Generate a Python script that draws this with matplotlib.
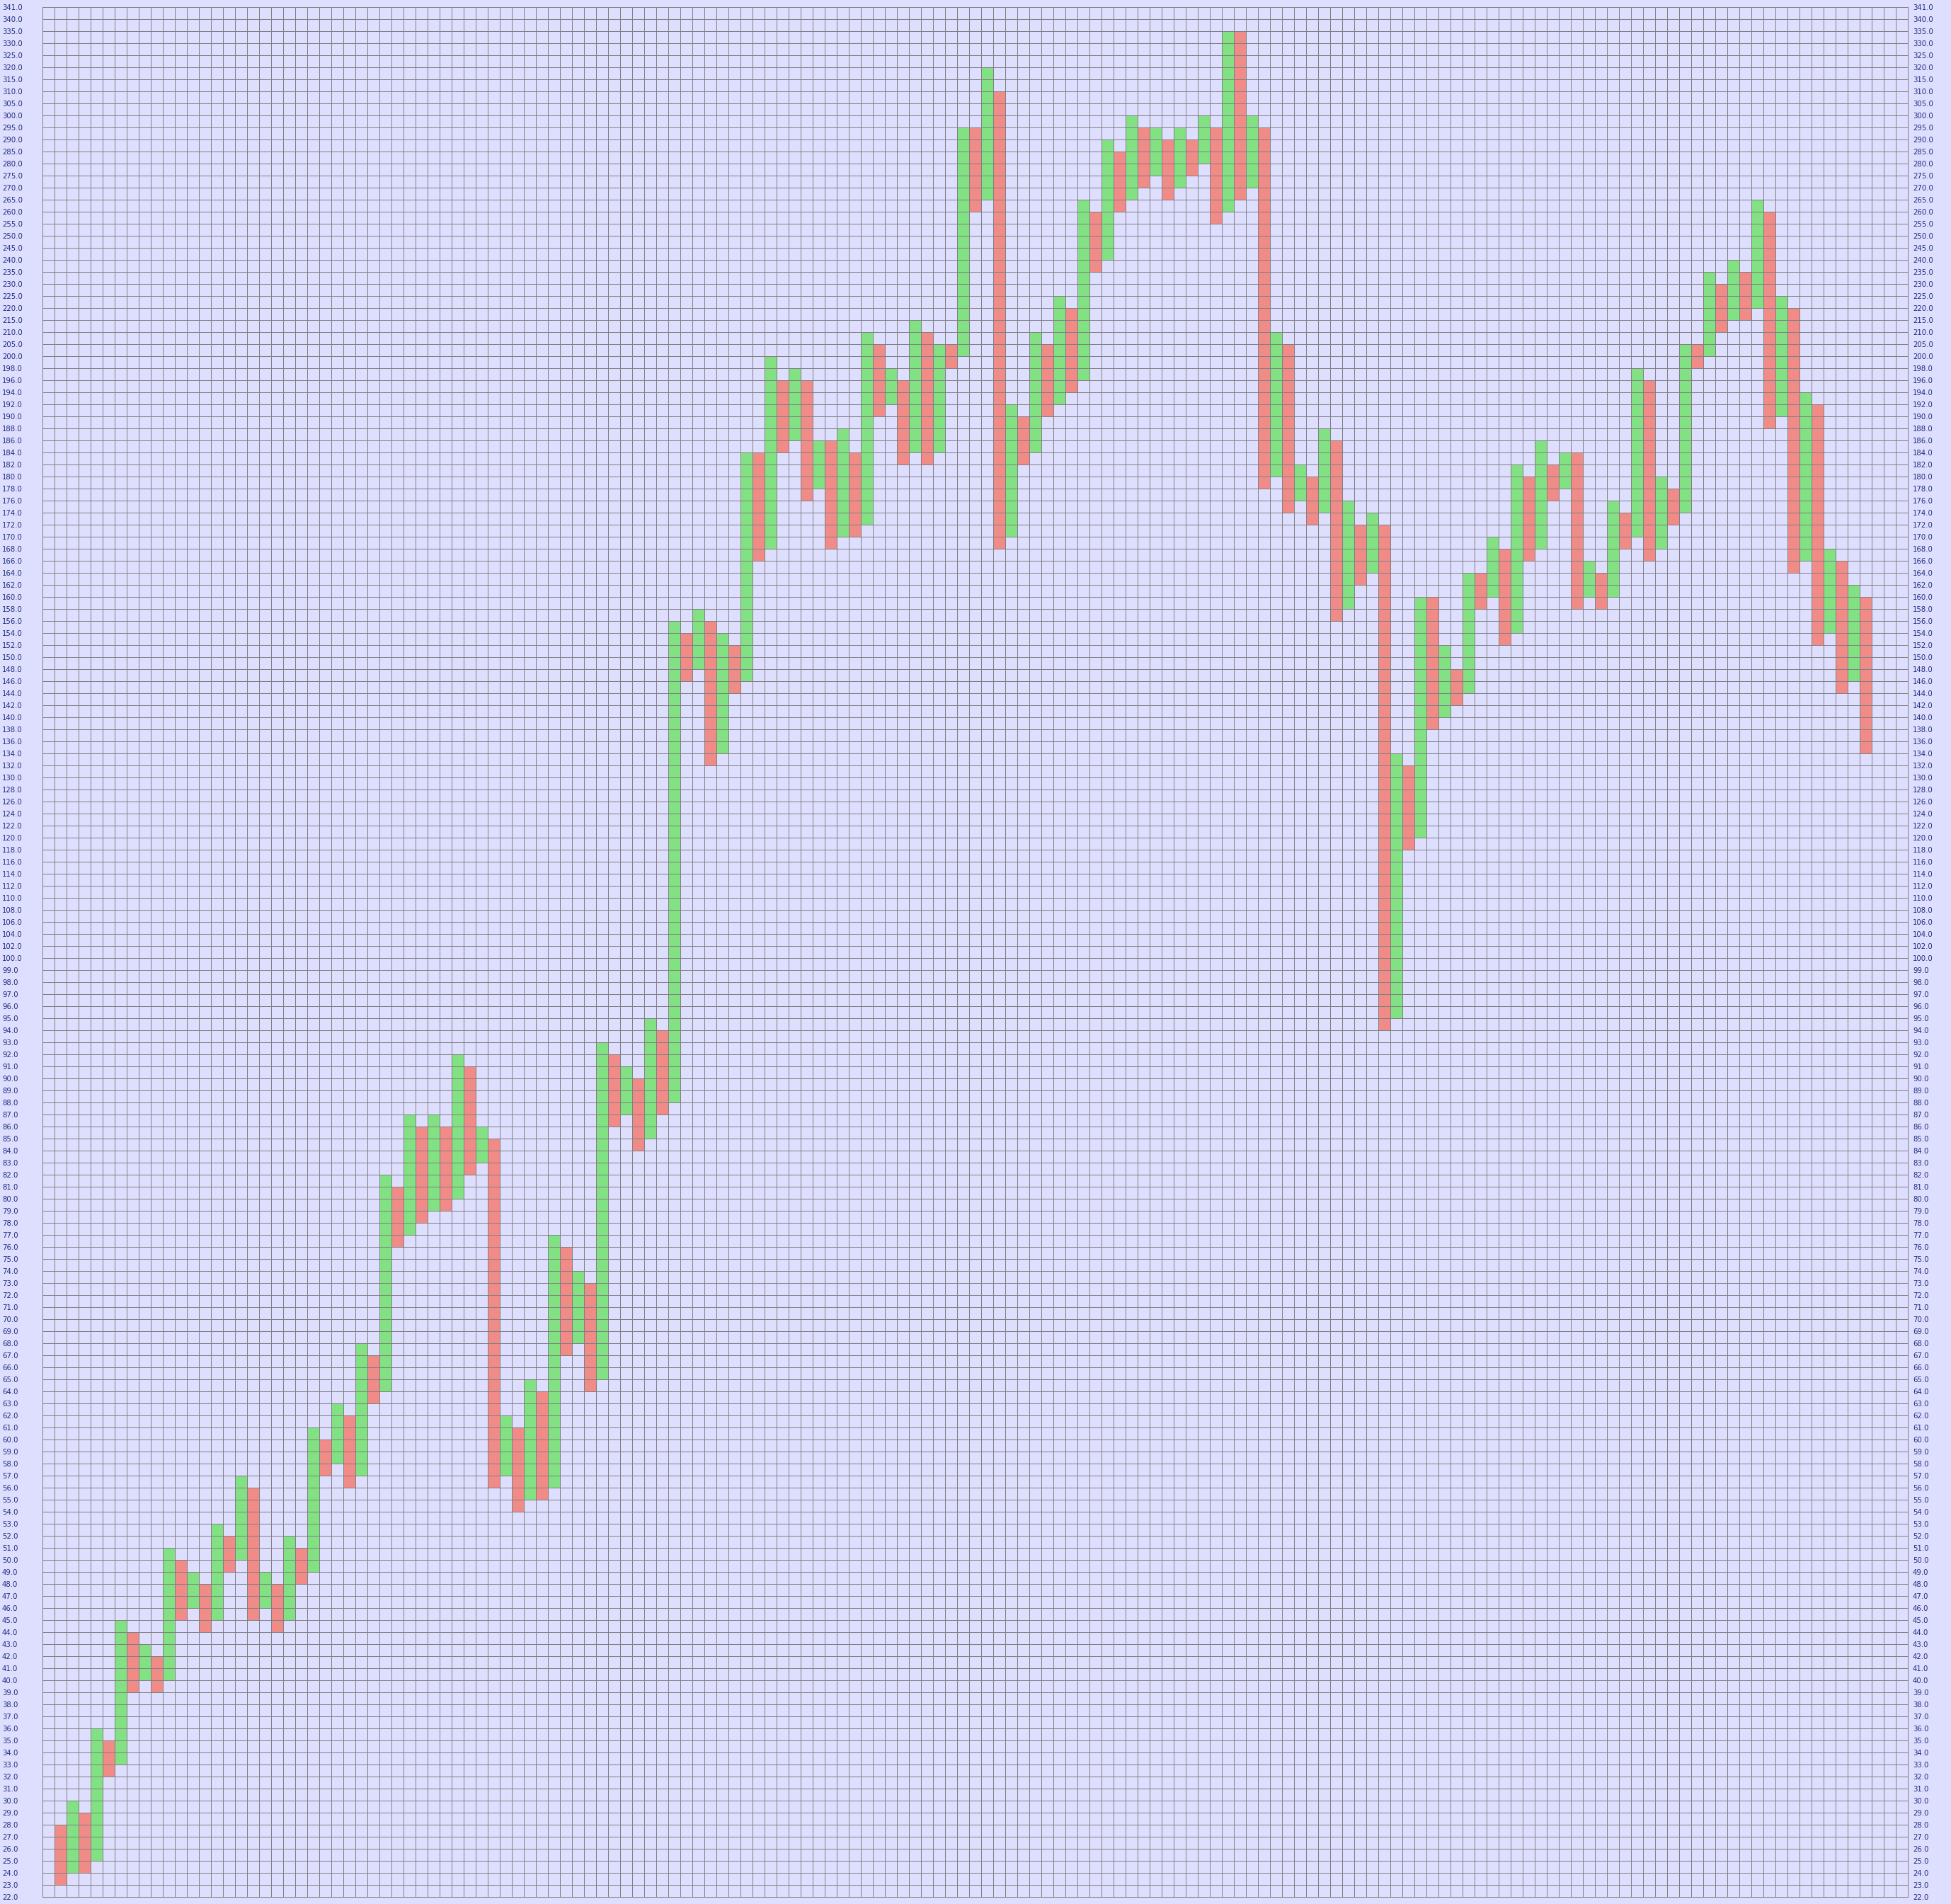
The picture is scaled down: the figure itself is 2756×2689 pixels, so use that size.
import matplotlib
matplotlib.use("Agg")
import matplotlib.pyplot as plt

# price levels on the y axis (box scale changes with price)
levels = ([float(v) for v in range(22, 101)]
          + [float(v) for v in range(102, 201, 2)]
          + [float(v) for v in range(205, 341, 5)]
          + [341.0])

# one column per reversal, starting at column 1; odd columns fall (red), even rise (green)
lows = [23, 24, 24, 25, 32, 33, 39, 40, 39, 40, 45, 46, 44, 45, 49, 50, 45, 46, 44, 45,
        48, 49, 57, 58, 56, 57, 63, 64, 76, 77, 78, 79, 79, 80, 82, 83, 56, 57, 54, 55,
        55, 56, 67, 68, 64, 65, 86, 87, 84, 85, 87, 88, 146, 148, 132, 134, 144, 146, 166, 168,
        184, 186, 176, 178, 168, 170, 170, 172, 190, 192, 182, 184, 182, 184, 198, 200, 260, 265, 168, 170,
        182, 184, 190, 192, 194, 196, 235, 240, 260, 265, 270, 275, 265, 270, 275, 280, 255, 260, 265, 270,
        178, 180, 174, 176, 172, 174, 156, 158, 162, 164, 94, 95, 118, 120, 138, 140, 142, 144, 158, 160,
        152, 154, 166, 168, 176, 178, 158, 160, 158, 160, 168, 170, 166, 168, 172, 174, 198, 200, 210, 215,
        215, 220, 188, 190, 164, 166, 152, 154, 144, 146, 134]
highs = [28, 30, 29, 36, 35, 45, 44, 43, 42, 51, 50, 49, 48, 53, 52, 57, 56, 49, 48, 52,
         51, 61, 60, 63, 62, 68, 67, 82, 81, 87, 86, 87, 86, 92, 91, 86, 85, 62, 61, 65,
         64, 77, 76, 74, 73, 93, 92, 91, 90, 95, 94, 156, 154, 158, 156, 154, 152, 184, 184, 200,
         196, 198, 196, 186, 186, 188, 184, 210, 205, 198, 196, 215, 210, 205, 205, 295, 295, 320, 310, 192,
         190, 210, 205, 225, 220, 265, 260, 290, 285, 300, 295, 295, 290, 295, 290, 300, 295, 335, 335, 300,
         295, 210, 205, 182, 180, 188, 186, 176, 172, 174, 172, 134, 132, 160, 160, 152, 148, 164, 164, 170,
         168, 182, 180, 186, 182, 184, 184, 166, 164, 176, 174, 198, 196, 180, 178, 205, 205, 235, 230, 240,
         235, 265, 260, 225, 220, 194, 192, 168, 166, 162, 160]

n_cols = 155
bg = '#dedeff'
up_color = '#82e182'
down_color = '#f08b87'
grid_color = '#808080'
label_color = '#1f2d7b'

fig = plt.figure(figsize=(27.56, 26.89), dpi=100, facecolor=bg)
ax = fig.add_axes([60 / 2756, 10 / 2689, 2635 / 2756, 2669 / 2689])
ax.set_facecolor(bg)

# Convert prices to row positions on the level scale
cols = list(range(1, len(lows) + 1))
bottoms = [levels.index(float(v)) for v in lows]
tops = [levels.index(float(v)) for v in highs]
colors = [down_color if c % 2 == 1 else up_color for c in cols]
ax.bar([c + 0.5 for c in cols], [t - b for t, b in zip(tops, bottoms)], bottom=bottoms,
       width=1.0, color=colors, linewidth=0, zorder=1)

ax.set_xlim(0, n_cols)
ax.set_ylim(0, len(levels) - 1)
ax.set_xticks(range(n_cols + 1))
ax.set_xticklabels([])
ax.set_yticks(range(len(levels)))
ax.set_yticklabels(['%.1f' % v for v in levels], ha='left')
ax.grid(True, color=grid_color, linewidth=0.72, antialiased=False)
ax.set_axisbelow('line')
ax.tick_params(axis='x', length=0)
# left labels are left-aligned near the figure edge
ax.tick_params(axis='y', length=0, labelsize=7.3, labelcolor=label_color, pad=41)

# right side labels just outside the frame
ax2 = ax.twinx()
ax2.set_ylim(ax.get_ylim())
ax2.set_yticks(range(len(levels)))
ax2.set_yticklabels(['%.1f' % v for v in levels])
ax2.tick_params(axis='y', length=0, labelsize=7.3, labelcolor=label_color, pad=5)

for a in (ax, ax2):
    for s in a.spines.values():
        s.set_color(grid_color)
        s.set_linewidth(0.72)

plt.savefig('out.png', dpi=100, facecolor=bg)
